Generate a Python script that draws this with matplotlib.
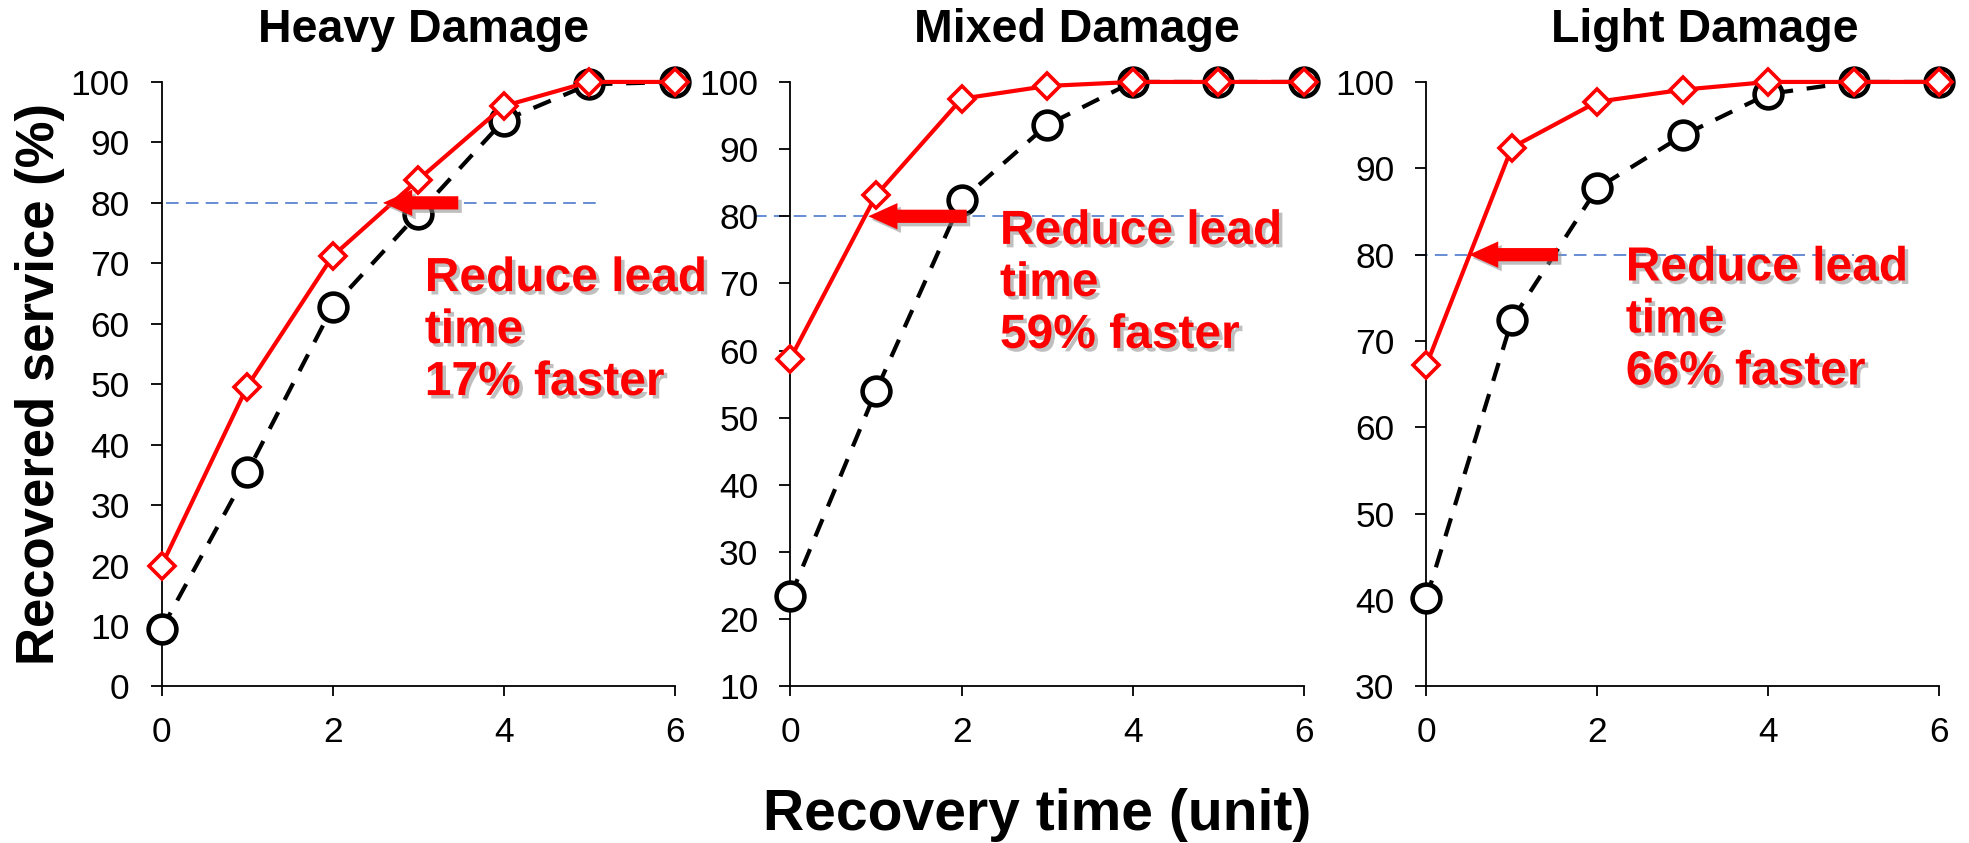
import matplotlib
matplotlib.use("Agg")
import matplotlib.pyplot as plt
import matplotlib.patheffects as pe

plt.rcParams["font.family"] = ["Liberation Sans", "DejaVu Sans"]

# recovery time steps
steps = [0, 1, 2, 3, 4, 5, 6]

# red = improved strategy, black = baseline
heavy_new = [20.0, 49.6, 71.2, 83.8, 96.0, 100.0, 100.0]
heavy_base = [9.5, 35.4, 62.8, 78.2, 93.6, 99.6, 100.0]
mixed_new = [58.8, 83.1, 97.5, 99.4, 100.0, 100.0, 100.0]
mixed_base = [23.4, 54.0, 82.4, 93.6, 100.0, 100.0, 100.0]
light_new = [67.2, 92.4, 97.7, 99.1, 100.0, 100.0, 100.0]
light_base = [40.2, 72.4, 87.7, 93.8, 98.6, 100.0, 100.0]

titles = ["Heavy Damage", "Mixed Damage", "Light Damage"]
y_mins = [0, 10, 30]
speedups = ["17%", "59%", "66%"]
target = 80
# arrow from baseline crossing to improved crossing (x values)
arrow_tails = [3.47, 2.06, 1.54]
arrow_heads = [2.59, 0.91, 0.50]
ref_line_x = [(0.05, 5.1), (-0.42, 5.1), (-0.13, 5.0)]

new_series = [heavy_new, mixed_new, light_new]
base_series = [heavy_base, mixed_base, light_base]

fig = plt.figure(figsize=(19.69, 8.43), dpi=100)

lefts = [0.0821, 0.4014, 0.7244]
widths = [0.2605, 0.2609, 0.2604]
title_x = [424 / 1969, 1077 / 1969, 1705 / 1969]
text_pos = [(0.513, 0.712), (0.408, 0.79), (0.389, 0.7295)]

shadow = [pe.withSimplePatchShadow(offset=(2.5, -2.5), shadow_rgbFace="0.55", alpha=0.55)]

for i in range(3):
    ax = fig.add_axes([lefts[i], 0.1857, widths[i], 0.7171])

    ax.plot(ref_line_x[i], [target, target], color="#5b84d0", lw=1.3,
            dashes=(7, 4), zorder=1, clip_on=False)

    ax.plot(steps, base_series[i], color="black", lw=3, dashes=(4.5, 3.3),
            marker="o", ms=20, mew=3.3, mfc="white", mec="black",
            zorder=4, clip_on=False)
    ax.plot(steps, new_series[i], color="red", lw=3,
            marker="D", ms=13.5, mew=2.6, mfc="white", mec="red",
            zorder=5, clip_on=False)

    ann = ax.annotate("", xy=(arrow_heads[i], target), xytext=(arrow_tails[i], target),
                      arrowprops=dict(arrowstyle="simple,head_length=2.1,head_width=1.9,tail_width=0.95",
                                      mutation_scale=10, color="red", lw=0,
                                      shrinkA=0, shrinkB=0),
                      zorder=6)
    ann.arrow_patch.set_path_effects(shadow)

    ax.text(text_pos[i][0], text_pos[i][1],
            "Reduce lead\ntime\n" + speedups[i] + " faster",
            transform=ax.transAxes, ha="left", va="top", color="red",
            fontsize=34.5, fontweight="bold", linespacing=1.2, zorder=7,
            path_effects=shadow)

    ax.set_xlim(0, 6)
    ax.set_ylim(y_mins[i], 100)
    ax.set_xticks([0, 2, 4, 6])
    ax.set_yticks(range(y_mins[i], 101, 10))
    for side in ["top", "right"]:
        ax.spines[side].set_visible(False)
    for side in ["left", "bottom"]:
        ax.spines[side].set_linewidth(1.3)
    ax.tick_params(axis="y", direction="out", length=8, width=1.3, pad=15, labelsize=25.5)
    ax.tick_params(axis="x", direction="out", length=7.5, width=1.3, pad=13.5, labelsize=25.5)

    fig.text(title_x[i], 1 - 41.7 / 843, titles[i], ha="center", va="baseline",
             fontsize=33.5, fontweight="bold")

fig.text(0.527, 1 - 830 / 843, "Recovery time (unit)", ha="center", va="baseline",
         fontsize=41, fontweight="bold")
fig.text(0.0075, 0.5445, "Recovered service (%)", rotation=90, ha="left", va="center",
         fontsize=38, fontweight="bold")

fig.savefig("out.png", dpi=100)
